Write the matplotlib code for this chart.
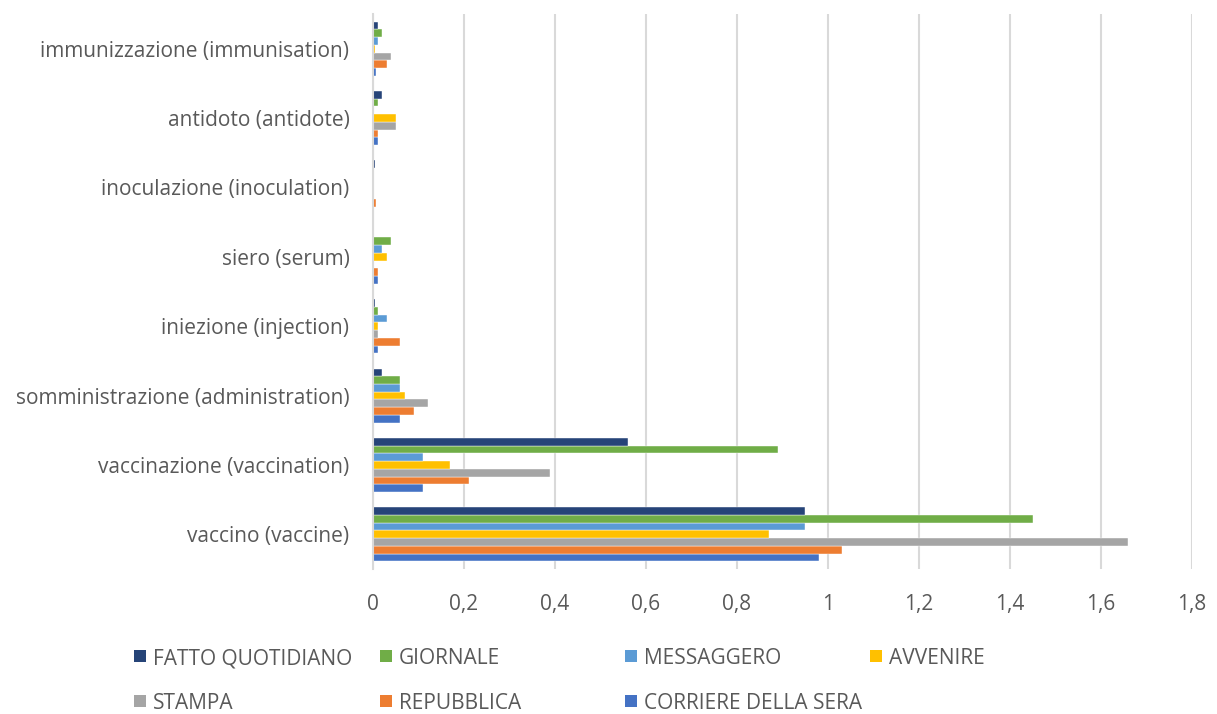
import matplotlib
matplotlib.use("Agg")
import matplotlib.pyplot as plt
from matplotlib.patches import Rectangle
from matplotlib.ticker import FuncFormatter, MultipleLocator
import numpy as np

plt.rcParams['font.family'] = ['Open Sans', 'DejaVu Sans']

categories = ["vaccino (vaccine)", "vaccinazione (vaccination)",
              "somministrazione (administration)", "iniezione (injection)",
              "siero (serum)", "inoculazione (inoculation)",
              "antidoto (antidote)", "immunizzazione (immunisation)"]

# values per newspaper, in category order (vaccino ... immunizzazione)
corriere = [0.98, 0.11, 0.06, 0.01, 0.01, 0.0, 0.01, 0.007]
repubblica = [1.03, 0.21, 0.09, 0.06, 0.01, 0.007, 0.01, 0.03]
stampa = [1.66, 0.39, 0.12, 0.01, 0.0, 0.0, 0.05, 0.04]
avvenire = [0.87, 0.17, 0.07, 0.01, 0.03, 0.0, 0.05, 0.005]
messaggero = [0.95, 0.11, 0.06, 0.03, 0.02, 0.0, 0.0, 0.01]
giornale = [1.45, 0.89, 0.06, 0.01, 0.04, 0.0, 0.01, 0.02]
fatto = [0.95, 0.56, 0.02, 0.005, 0.0, 0.005, 0.02, 0.01]

series_names = ["CORRIERE DELLA SERA", "REPUBBLICA", "STAMPA", "AVVENIRE",
                "MESSAGGERO", "GIORNALE", "FATTO QUOTIDIANO"]
series_values = [corriere, repubblica, stampa, avvenire, messaggero, giornale, fatto]
colors = ["#4472C4", "#ED7D31", "#A5A5A5", "#FFC000", "#5B9BD5", "#70AD47", "#264478"]

text_color = "#595959"
grid_color = "#D9D9D9"
W, H = 1217, 714

fig = plt.figure(figsize=(W / 100, H / 100), dpi=100)
ax = fig.add_axes([373 / W, 1 - 569 / H, (1192 - 373) / W, 555 / H])

y = np.arange(len(categories))
n = len(series_values)
h = 0.78 / n
for i, (name, vals, c) in enumerate(zip(series_names, series_values, colors)):
    ax.barh(y + (i - (n - 1) / 2) * h, vals, height=h, color=c,
            edgecolor="white", linewidth=0.3, label=name, zorder=3)

ax.set_xlim(0, 1.8)
ax.set_ylim(-0.5, len(categories) - 0.5)
ax.set_yticks(y)
ax.set_yticklabels(categories)
ax.xaxis.set_major_locator(MultipleLocator(0.2))
ax.xaxis.set_major_formatter(FuncFormatter(
    lambda v, p: ("%g" % round(v, 1)).replace(".", ",")))

ax.grid(axis="x", color=grid_color, linewidth=1.5, zorder=0)
for s in ["top", "right", "bottom"]:
    ax.spines[s].set_visible(False)
ax.spines["left"].set_color(grid_color)
ax.spines["left"].set_linewidth(1.5)
ax.spines["left"].set_zorder(4)
ax.tick_params(axis="y", length=0, pad=17, labelsize=15, labelcolor=text_color)
ax.tick_params(axis="x", length=0, pad=18, labelsize=15, labelcolor=text_color)

# legend: two rows of four evenly spaced entries
order = [6, 5, 4, 3, 2, 1, 0]
col_x = [134, 380, 625, 870]
row_y = [656, 701]
sq = 12
for k, idx in enumerate(order):
    r, cidx = divmod(k, 4)
    x0, y0 = col_x[cidx], row_y[r]
    fig.add_artist(Rectangle((x0 / W, 1 - (y0 + sq / 2) / H), sq / W, sq / H,
                             transform=fig.transFigure, facecolor=colors[idx],
                             edgecolor="none"))
    fig.text((x0 + sq + 7) / W, 1 - y0 / H, series_names[idx],
             ha="left", va="center_baseline", fontsize=15, color=text_color)

fig.savefig("out.png", dpi=100, facecolor="white")
